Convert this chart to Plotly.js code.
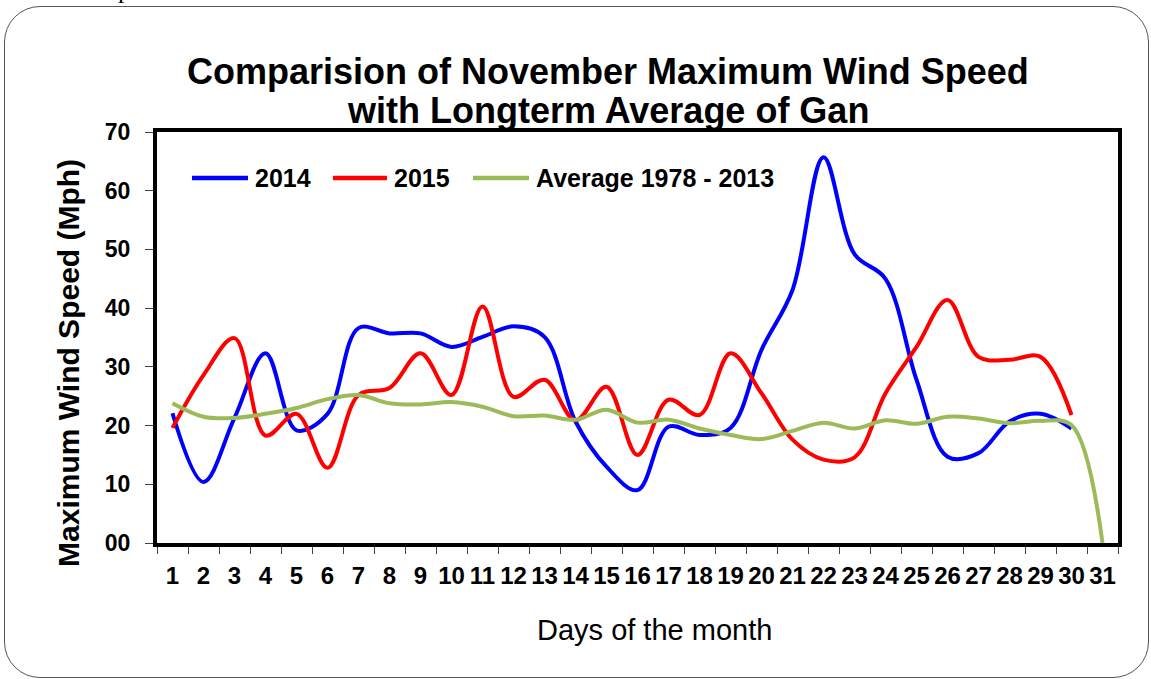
<!DOCTYPE html>
<html>
<head>
<meta charset="utf-8">
<script src="https://cdn.plot.ly/plotly-3.0.1.min.js"></script>
<style>
  html, body { margin: 0; padding: 0; background: #ffffff; }
  #wrap { position: relative; width: 1151px; height: 679px; overflow: hidden; }
  #frame { position: absolute; left: 4px; top: 6px; width: 1145px; height: 672px;
           border: 1.3px solid #555; border-radius: 36px; box-sizing: border-box; }
  #stray { position: absolute; left: 118px; top: -25px; font-family: "Liberation Serif", serif; font-size: 26px; color: #000; }
  #chart { position: absolute; left: 0; top: 0; width: 1151px; height: 679px; }
</style>
</head>
<body>
<div id="wrap">
  <div id="stray">p</div>
  <div id="frame"></div>
  <div id="chart"></div>
</div>
<script>
const days = ["1","2","3","4","5","6","7","8","9","10","11","12","13","14","15","16","17","18","19","20","21","22","23","24","25","26","27","28","29","30","31"];
const days30 = days.slice(0, 30);
const wind2014 = [22.1, 10.4, 21.3, 32.3, 19.2, 22.0, 36.6, 35.7, 35.7, 33.4, 35.1, 36.9, 35.1, 20.7, 13.0, 9.0, 19.8, 18.4, 19.6, 32.9, 43.1, 65.7, 49.2, 45.0, 27.8, 14.7, 15.3, 20.7, 22.0, 19.5];
const wind2015 = [19.6, 28.6, 34.9, 18.3, 22.0, 12.8, 25.2, 26.4, 32.3, 25.2, 40.3, 24.9, 27.8, 20.9, 26.6, 15.0, 24.4, 21.8, 32.3, 25.5, 17.6, 14.2, 14.6, 25.5, 33.4, 41.4, 31.7, 31.2, 31.7, 21.8];
const windAvg = [23.8, 21.5, 21.3, 22.0, 23.0, 24.5, 25.2, 23.8, 23.6, 24.0, 23.2, 21.6, 21.7, 21.0, 22.7, 20.5, 21.0, 19.5, 18.4, 17.7, 19.1, 20.5, 19.5, 20.9, 20.3, 21.5, 21.2, 20.4, 20.8, 20.1, 0];
const yTicks = [0, 10, 20, 30, 40, 50, 60, 70];
const yTickText = ["00", "10", "20", "30", "40", "50", "60", "70"];
const seriesNames = ["2014", "2015", "Average 1978 - 2013"];
const seriesColors = ["#0000ff", "#ff0000", "#9bbb59"];
const titleLines = ["Comparision of November Maximum Wind Speed", "with Longterm Average of Gan"];
const xTitle = "Days of the month";
const yTitle = "Maximum Wind Speed (Mph)";

const FONT = "Liberation Sans, Arial, sans-serif";
const lineStyle = (c) => ({ color: c, width: 4, shape: "spline", smoothing: 1 });
const traces = [
  { x: days30, y: wind2014, name: seriesNames[0], type: "scatter", mode: "lines", line: lineStyle(seriesColors[0]) },
  { x: days30, y: wind2015, name: seriesNames[1], type: "scatter", mode: "lines", line: lineStyle(seriesColors[1]) },
  { x: days, y: windAvg, name: seriesNames[2], type: "scatter", mode: "lines", line: lineStyle(seriesColors[2]) }
];

// legend drawn as key lines + labels inside the plot area
const legendY = 0.888;
const legendKeys = [[0.0364, 0.0947, 0.0995], [0.1831, 0.2393, 0.2445], [0.3288, 0.3871, 0.3925]];
const shapes = legendKeys.map((k, i) => ({
  type: "line", xref: "paper", yref: "paper", x0: k[0], x1: k[1], y0: legendY, y1: legendY,
  line: { color: seriesColors[i], width: 4.5 }
}));
const annotations = legendKeys.map((k, i) => ({
  xref: "paper", yref: "paper", x: k[2], y: legendY, xanchor: "left", yanchor: "middle",
  text: "<b>" + seriesNames[i] + "</b>", showarrow: false,
  font: { size: 25, family: FONT, color: "#000" }
}));
annotations.push(
  { xref: "paper", yref: "paper", x: 0.469, y: 1.146, xanchor: "center", yanchor: "middle",
    text: "<b>" + titleLines[0] + "</b>", showarrow: false, font: { size: 36, family: FONT, color: "#000" } },
  { xref: "paper", yref: "paper", x: 0.469, y: 1.0535, xanchor: "center", yanchor: "middle",
    text: "<b>" + titleLines[1] + "</b>", showarrow: false, font: { size: 36, family: FONT, color: "#000" } },
  { xref: "paper", yref: "paper", x: 0.518, y: -0.2117, xanchor: "center", yanchor: "middle",
    text: xTitle, showarrow: false, font: { size: 29, family: FONT, color: "#000" } },
  { xref: "paper", yref: "paper", x: -0.0916, y: 0.438, xanchor: "center", yanchor: "middle", textangle: -90,
    text: "<b>" + yTitle + "</b>", showarrow: false, font: { size: 30, family: FONT, color: "#000" } }
);

const layout = {
  width: 1151, height: 679,
  paper_bgcolor: "rgba(0,0,0,0)", plot_bgcolor: "#ffffff",
  margin: { l: 157, r: 33, t: 132, b: 136 },
  font: { family: FONT, color: "#000" },
  showlegend: false,
  shapes: shapes,
  annotations: annotations,
  xaxis: {
    type: "category", categoryorder: "array", categoryarray: days,
    range: [-0.5, 30.5],
    tickson: "boundaries", ticks: "outside", ticklen: 7, tickcolor: "#444", tickwidth: 1,
    ticklabelstandoff: 8,
    showline: true, linecolor: "#000", linewidth: 4, mirror: true,
    showgrid: false, zeroline: false,
    tickfont: { size: 24, family: FONT, weight: "bold", color: "#000" },
    tickangle: 0
  },
  yaxis: {
    range: [0, 70], tickvals: yTicks, ticktext: yTickText,
    ticks: "outside", ticklen: 8, tickcolor: "#444", tickwidth: 1,
    ticklabelstandoff: 10,
    showline: true, linecolor: "#000", linewidth: 4, mirror: true,
    showgrid: false, zeroline: false,
    tickfont: { size: 23, family: FONT, weight: "bold", color: "#000" }
  }
};

Plotly.newPlot("chart", traces, layout, { displayModeBar: false, staticPlot: true });
</script>
</body>
</html>
